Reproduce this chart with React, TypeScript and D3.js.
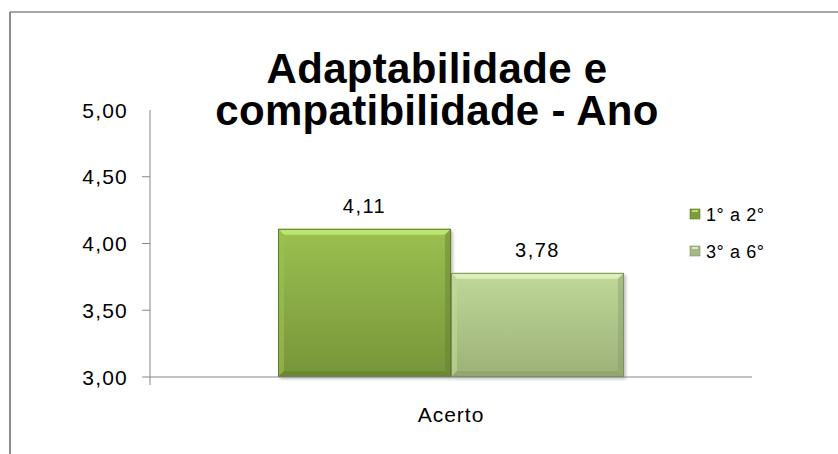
import * as D3 from 'd3';

const width = 838;
const height = 454;

// dados
const categories = ['Acerto'];
const seriesNames = ['1° a 2°', '3° a 6°'];
const seriesValues = [4.11, 3.78];
const yTicks = [3.0, 3.5, 4.0, 4.5, 5.0];
const titleLines = ['Adaptabilidade e', 'compatibilidade - Ano'];

const marginLeft = 150;
const marginRight = 86;
const plotTop = 110;
const plotBottom = 377;

const font = 'Arial, "Liberation Sans", sans-serif';

const palettes = [
  { top: '#9cc050', bottom: '#76953a', edge: '#5d7a2c', light: '#c9f07c', dark: '#667f30', legend: '#7d9c3e' },
  { top: '#c0d89a', bottom: '#9cb177', edge: '#7f9160', light: '#e6f7c4', dark: '#8a9e68', legend: '#a5b887' },
];

export default function App() {
  const y = D3.scaleLinear().domain([3, 5]).range([plotBottom, plotTop]);
  const x = D3.scaleBand<string>()
    .domain(categories)
    .range([marginLeft, width - marginRight])
    .paddingInner(0)
    .paddingOuter(0.37);
  const xs = D3.scaleBand<string>().domain(seriesNames).range([0, x.bandwidth()]).padding(0);
  const fmt = (v: number) => D3.format('.2f')(v).replace('.', ',');
  const bevel = 6;

  return (
    <svg
      width={width}
      height={height}
      style={{ position: 'absolute', left: 0, top: 0, background: '#fff' }}
    >
      <defs>
        {palettes.map((p, i) => (
          <linearGradient key={i} id={`bar-grad-${i}`} x1="0" y1="0" x2="0" y2="1">
            <stop offset="0%" stopColor={p.top} />
            <stop offset="100%" stopColor={p.bottom} />
          </linearGradient>
        ))}
        <filter id="shadow" x="-10%" y="-10%" width="130%" height="130%">
          <feDropShadow dx="2" dy="2" stdDeviation="1.5" floodColor="#000" floodOpacity="0.25" />
        </filter>
      </defs>

      {/* moldura */}
      <line x1={10} x2={width} y1={12} y2={12} stroke="#8a8a8a" strokeWidth={1.5} />
      <line x1={10} x2={10} y1={12} y2={height} stroke="#8a8a8a" strokeWidth={2} />

      {/* título */}
      {titleLines.map((t, i) => (
        <text
          key={i}
          x={437}
          y={83 + i * 42}
          textAnchor="middle"
          fontFamily={font}
          fontWeight="bold"
          fontSize={42}
          letterSpacing={0.3}
          fill="#000"
        >
          {t}
        </text>
      ))}

      {/* eixo y */}
      <line x1={marginLeft} x2={marginLeft} y1={plotTop} y2={plotBottom + 8} stroke="#868686" />
      {yTicks.map((t) => (
        <g key={t}>
          {t !== 5 && (
            <line x1={marginLeft - 8} x2={marginLeft} y1={y(t)} y2={y(t)} stroke="#868686" />
          )}
          <text
            x={128}
            y={y(t)}
            dy="0.36em"
            textAnchor="end"
            fontFamily={font}
            fontSize={21}
            letterSpacing={1.2}
            fill="#000"
          >
            {fmt(t)}
          </text>
        </g>
      ))}

      {/* barras */}
      {categories.map((c) =>
        seriesValues.map((v, i) => {
          const p = palettes[i];
          const bx = (x(c) ?? 0) + (xs(seriesNames[i]) ?? 0);
          const bw = xs.bandwidth();
          const by = y(v);
          const bh = y(3) - by;
          const b = bevel;
          return (
            <g key={`${c}-${i}`}>
              <rect x={bx} y={by} width={bw} height={bh} fill={`url(#bar-grad-${i})`} filter="url(#shadow)" />
              <polygon
                points={`${bx},${by} ${bx + bw},${by} ${bx + bw - b},${by + b} ${bx + b},${by + b}`}
                fill={p.light}
                opacity={0.75}
              />
              <polygon
                points={`${bx},${by} ${bx + b},${by + b} ${bx + b},${by + bh - b} ${bx},${by + bh}`}
                fill={p.top}
                opacity={0.6}
              />
              <polygon
                points={`${bx + bw},${by} ${bx + bw},${by + bh} ${bx + bw - b},${by + bh - b} ${bx + bw - b},${by + b}`}
                fill={p.dark}
                opacity={0.45}
              />
              <polygon
                points={`${bx},${by + bh} ${bx + bw},${by + bh} ${bx + bw - b},${by + bh - b} ${bx + b},${by + bh - b}`}
                fill={p.dark}
                opacity={0.6}
              />
              <rect x={bx + 0.5} y={by + 0.5} width={bw - 1} height={bh - 1} fill="none" stroke={p.edge} strokeWidth={1} />
              <text
                x={bx + bw / 2}
                y={by - 16}
                textAnchor="middle"
                fontFamily={font}
                fontSize={20}
                letterSpacing={1.5}
                fill="#000"
              >
                {fmt(v)}
              </text>
            </g>
          );
        })
      )}

      {/* eixo x */}
      <line x1={marginLeft} x2={width - marginRight} y1={plotBottom} y2={plotBottom} stroke="#868686" />
      {categories.map((c) => (
        <text
          key={c}
          x={(x(c) ?? 0) + x.bandwidth() / 2}
          y={422}
          textAnchor="middle"
          fontFamily={font}
          fontSize={21}
          letterSpacing={1}
          fill="#000"
        >
          {c}
        </text>
      ))}

      {/* legenda */}
      {seriesNames.map((s, i) => (
        <g key={s} transform={`translate(690,${209 + i * 37})`}>
          <rect x={0} y={0} width={10} height={10} fill={palettes[i].legend} stroke={palettes[i].edge} strokeWidth={0.6} />
          <rect x={2} y={1} width={6} height={2} fill={palettes[i].light} opacity={0.8} />
          <text x={16} y={12} fontFamily={font} fontSize={18} letterSpacing={0.6} fill="#000">
            {s}
          </text>
        </g>
      ))}
    </svg>
  );
}
